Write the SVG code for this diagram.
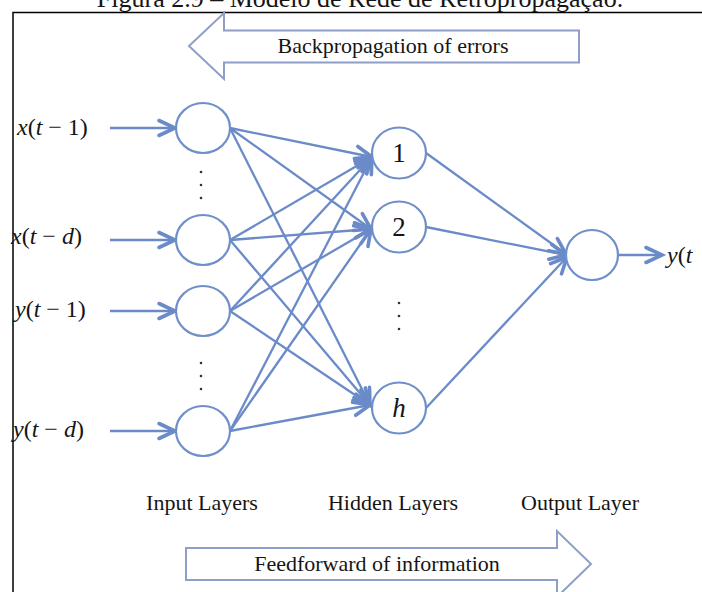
<svg xmlns="http://www.w3.org/2000/svg" width="702" height="592" viewBox="0 0 702 592">
  <defs>
    <style>
      .serif{font-family:"Liberation Serif","Times New Roman",serif;fill:#151515}
      .cap{font-size:26px}
      .lbl{font-size:22px}
      .math{font-size:24px}
      .num{font-size:27px}
      .it{font-style:italic}
      .edge{stroke:#6a8bc8;stroke-width:2.3;fill:none;marker-end:url(#chev)}
      .node{fill:#fff;stroke:#6f8fca;stroke-width:2.2}
      .band{fill:#fff;stroke:#8e9ec8;stroke-width:2}
      .dot{fill:#333}
    </style>
    <marker id="chev" markerUnits="userSpaceOnUse" markerWidth="26" markerHeight="26" viewBox="-20 -13 26 26" refX="0" refY="0" orient="auto" overflow="visible">
      <path d="M-16,-7.5 L0,0 L-16,7.5" fill="none" stroke="#6a8bc8" stroke-width="3.6" stroke-linecap="round"/>
    </marker>
  </defs>

  <rect width="702" height="592" fill="#fff"/>

  <!-- caption (clipped at the top edge) -->
  <text class="serif cap" x="360" y="7" text-anchor="middle">Figura 2.9 – Modelo de Rede de Retropropagação.</text>

  <!-- frame -->
  <path d="M13,592 V12.5 H702" fill="none" stroke="#000" stroke-width="1.5"/>

  <!-- backward band arrow -->
  <g id="backprop">
    <path class="band" d="M579,30.5 H224 V13 L189,46 L224,79 V62.5 H579 Z"/>
    <text class="serif lbl" x="393" y="53" text-anchor="middle">Backpropagation of errors</text>
  </g>

  <!-- forward band arrow -->
  <g id="feedforward">
    <path class="band" d="M186,548 H557 V531 L591,564 L557,597 V580 H186 Z"/>
    <text class="serif lbl" x="377" y="571" text-anchor="middle">Feedforward of information</text>
  </g>

  <!-- connectors -->
  <g id="connectors">
    <!-- external inputs -->
    <line class="edge" x1="110" y1="128" x2="175" y2="128"/>
    <line class="edge" x1="110" y1="240" x2="175" y2="240"/>
    <line class="edge" x1="110" y1="311" x2="175" y2="311"/>
    <line class="edge" x1="110" y1="431" x2="175" y2="431"/>
    <!-- input to hidden -->
    <line class="edge" x1="230" y1="128" x2="372" y2="157"/>
    <line class="edge" x1="230" y1="128" x2="371" y2="229"/>
    <line class="edge" x1="230" y1="128" x2="370" y2="405"/>
    <line class="edge" x1="230" y1="240" x2="372" y2="157"/>
    <line class="edge" x1="230" y1="240" x2="371" y2="229"/>
    <line class="edge" x1="230" y1="240" x2="370" y2="405"/>
    <line class="edge" x1="230" y1="311" x2="372" y2="157"/>
    <line class="edge" x1="230" y1="311" x2="371" y2="229"/>
    <line class="edge" x1="230" y1="311" x2="370" y2="405"/>
    <line class="edge" x1="230" y1="431" x2="372" y2="157"/>
    <line class="edge" x1="230" y1="431" x2="371" y2="229"/>
    <line class="edge" x1="230" y1="431" x2="370" y2="405"/>
    <!-- hidden to output -->
    <line class="edge" x1="426" y1="153" x2="566" y2="254"/>
    <line class="edge" x1="426" y1="227" x2="566" y2="255"/>
    <line class="edge" x1="426" y1="408" x2="567" y2="257"/>
    <!-- output -->
    <line class="edge" x1="618" y1="255" x2="662" y2="255"/>
  </g>

  <!-- input layer -->
  <g id="in-x1">
    <ellipse class="node" cx="203" cy="128" rx="27" ry="25"/>
    <text class="serif math" x="17" y="135"><tspan class="it">x</tspan>(<tspan class="it">t</tspan> − 1)</text>
  </g>
  <g id="in-xd">
    <ellipse class="node" cx="203" cy="240" rx="27" ry="25"/>
    <text class="serif math" x="11" y="244"><tspan class="it">x</tspan>(<tspan class="it">t</tspan> − <tspan class="it">d</tspan>)</text>
  </g>
  <g id="in-y1">
    <ellipse class="node" cx="203" cy="311" rx="27" ry="25"/>
    <text class="serif math" x="15" y="317"><tspan class="it">y</tspan>(<tspan class="it">t</tspan> − 1)</text>
  </g>
  <g id="in-yd">
    <ellipse class="node" cx="203" cy="431" rx="27" ry="25"/>
    <text class="serif math" x="13" y="437"><tspan class="it">y</tspan>(<tspan class="it">t</tspan> − <tspan class="it">d</tspan>)</text>
  </g>
  <g id="in-dots">
    <circle class="dot" cx="201" cy="172" r="1.3"/>
    <circle class="dot" cx="201" cy="185" r="1.3"/>
    <circle class="dot" cx="201" cy="198" r="1.3"/>
    <circle class="dot" cx="201" cy="363" r="1.3"/>
    <circle class="dot" cx="201" cy="376" r="1.3"/>
    <circle class="dot" cx="201" cy="389" r="1.3"/>
  </g>

  <!-- hidden layer -->
  <g id="hid-1">
    <ellipse class="node" cx="399" cy="153" rx="27" ry="25.5"/>
    <text class="serif num" x="399" y="162" text-anchor="middle">1</text>
  </g>
  <g id="hid-2">
    <ellipse class="node" cx="399" cy="227" rx="27" ry="25.5"/>
    <text class="serif num" x="399" y="236" text-anchor="middle">2</text>
  </g>
  <g id="hid-h">
    <ellipse class="node" cx="399" cy="408" rx="27" ry="25.5"/>
    <text class="serif num it" x="399" y="417" text-anchor="middle">h</text>
  </g>
  <g id="hid-dots">
    <circle class="dot" cx="399" cy="303" r="1.3"/>
    <circle class="dot" cx="399" cy="316" r="1.3"/>
    <circle class="dot" cx="399" cy="329" r="1.3"/>
  </g>

  <!-- output layer -->
  <g id="out">
    <ellipse class="node" cx="592" cy="255" rx="26" ry="25"/>
    <text class="serif math" x="667" y="263"><tspan class="it">y</tspan>(<tspan class="it">t</tspan></text>
  </g>

  <!-- layer captions -->
  <g id="captions">
    <text class="serif lbl" x="202" y="510" text-anchor="middle">Input Layers</text>
    <text class="serif lbl" x="393" y="510" text-anchor="middle">Hidden Layers</text>
    <text class="serif lbl" x="580" y="510" text-anchor="middle">Output Layer</text>
  </g>
</svg>
